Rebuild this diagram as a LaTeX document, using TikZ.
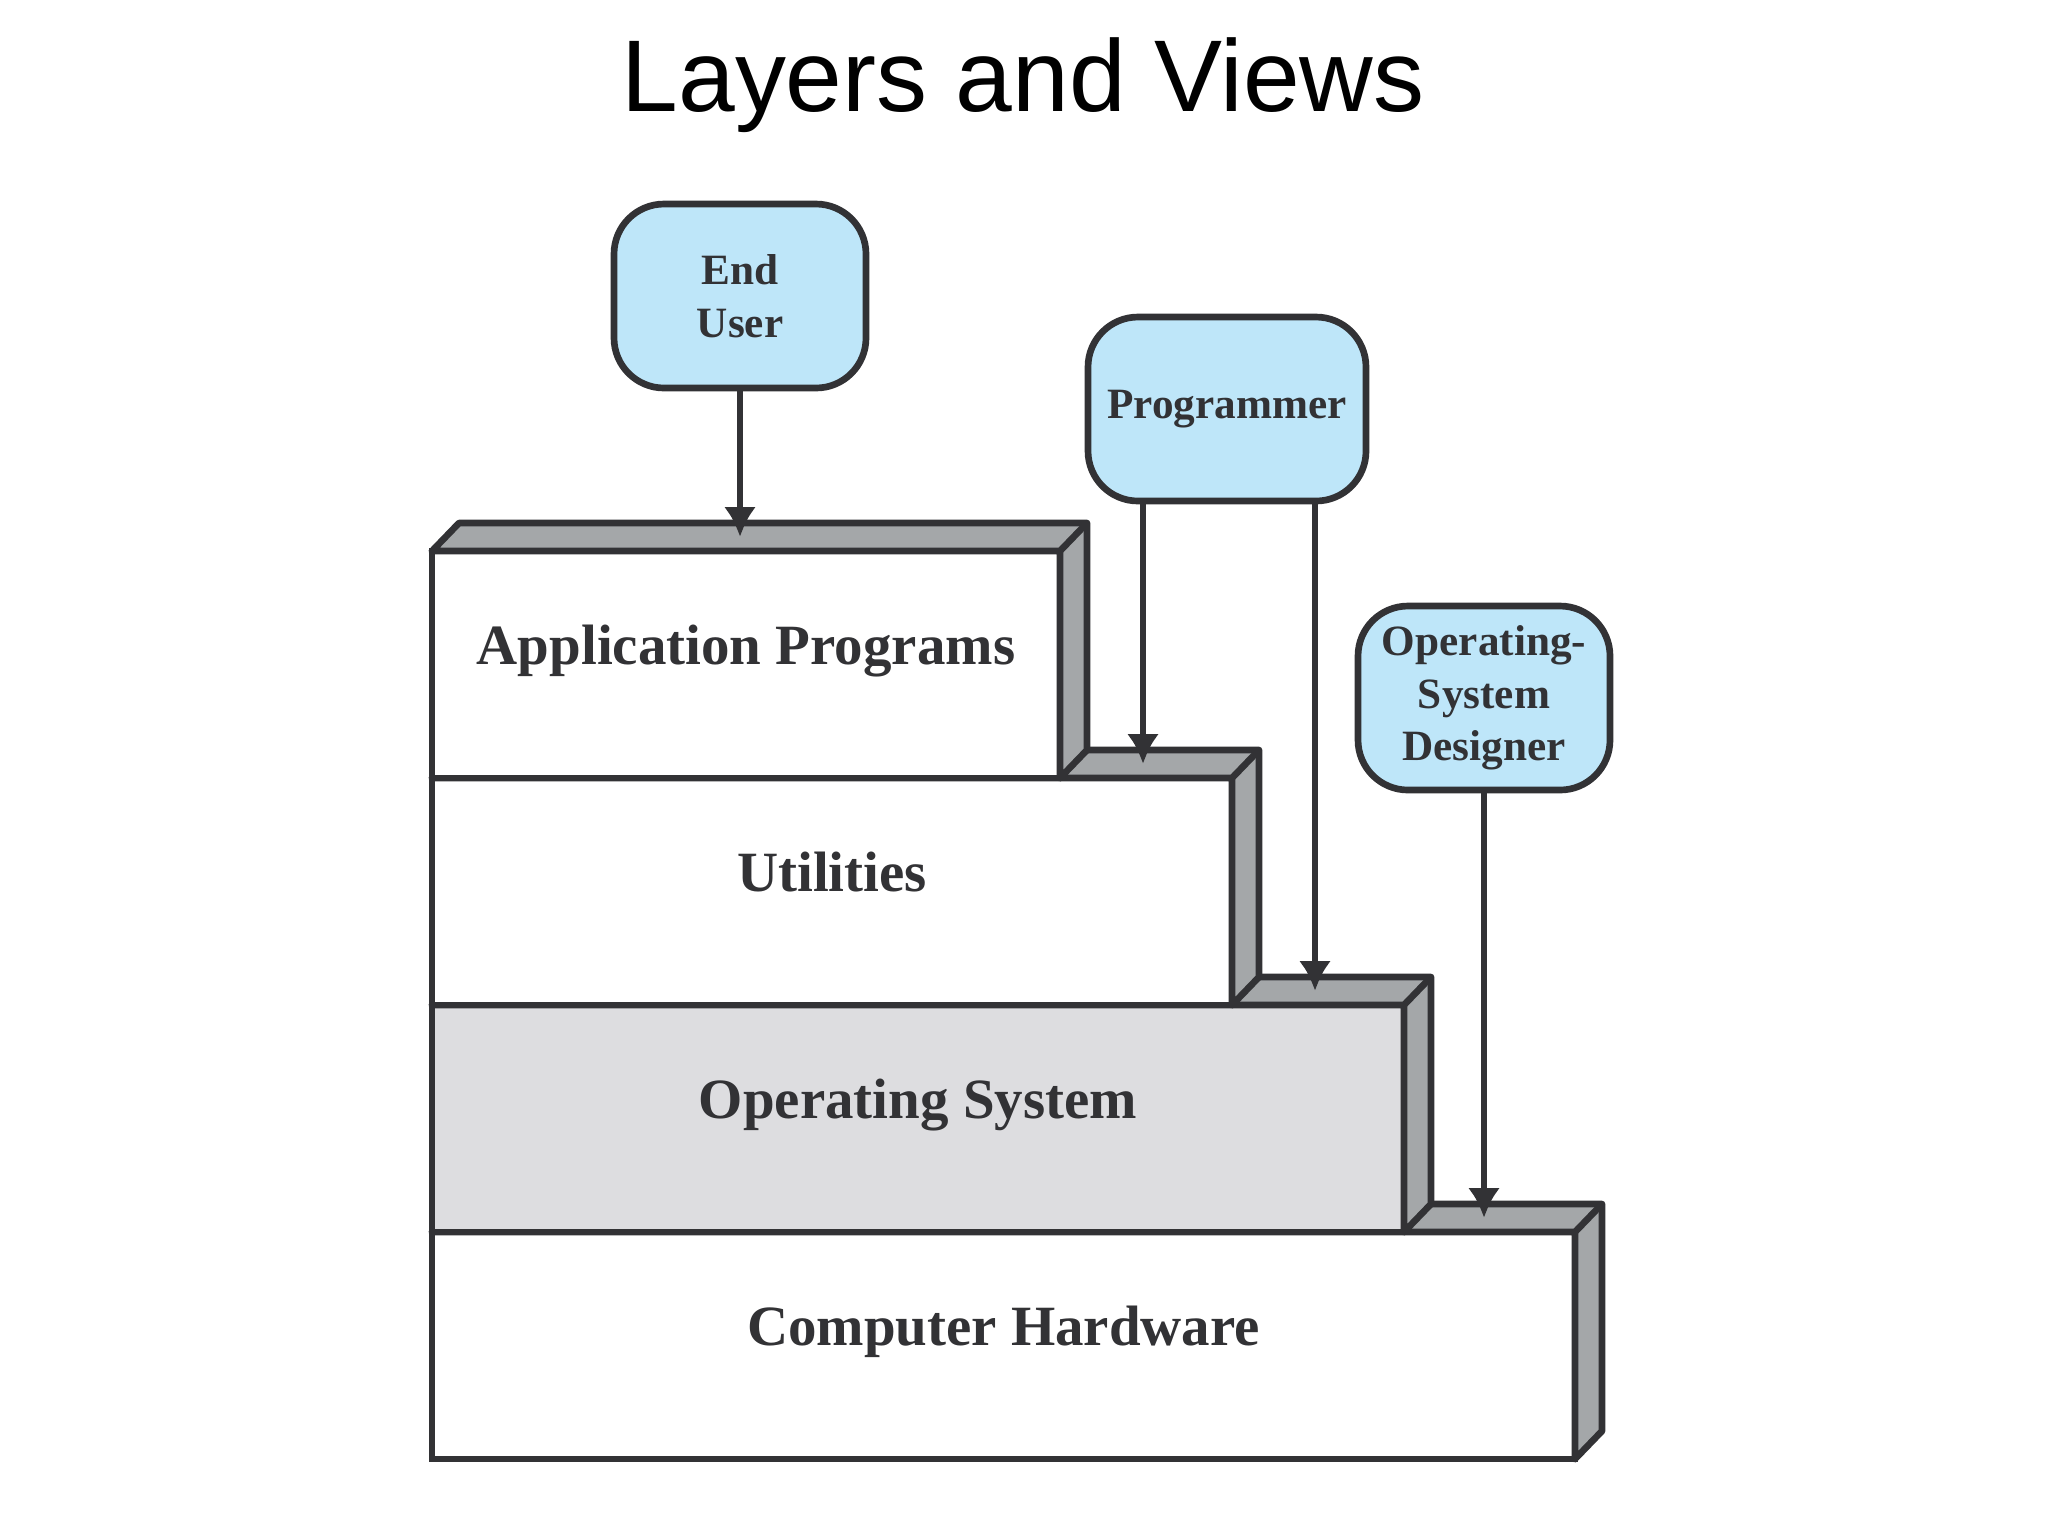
\documentclass[tikz,border=0pt]{standalone}
\usepackage{fontspec}
\newfontfamily\titlefont{Liberation Sans}
\newfontfamily\boxfont{Liberation Serif}
\usetikzlibrary{positioning,arrows.meta}

\definecolor{inkgray}{RGB}{50,50,53}
\definecolor{bevelgray}{RGB}{164,167,169}
\definecolor{osgray}{RGB}{221,221,224}
\definecolor{userblue}{RGB}{190,230,249}

\tikzset{
  layer/.style={rectangle,draw=inkgray,line width=1.9pt,fill=white,outer sep=0pt,anchor=south west,
    minimum height=2.27cm,text=inkgray,font=\boxfont\bfseries\fontsize{16.2}{19}\selectfont,
    text height=4mm,text depth=4mm},
  bevel/.style={draw=inkgray,line width=1.9pt,fill=bevelgray,line join=round},
  viewer/.style={rectangle,rounded corners=0.5cm,draw=inkgray,line width=1.9pt,fill=userblue,
    align=center,minimum height=1.84cm,minimum width=2.52cm,text=inkgray,
    font=\boxfont\bfseries\fontsize{12.3}{15}\selectfont},
  view/.style={-{Latex[length=0.3cm,width=0.32cm]},draw=inkgray,line width=1.9pt}
}

% top and side faces of a layer, plus the spot an arrow lands on
\newcommand{\bevelof}[1]{%
  \filldraw[bevel] (#1.north west) -- ++(0.27cm,0.28cm) -| ([shift={(0.27cm,0.28cm)}]#1.south east)
    -- (#1.south east) -- (#1.north east) -- cycle;
  \draw[bevel] (#1.north east) -- ++(0.27cm,0.28cm);
  \coordinate (#1top) at ([yshift=0.14cm]#1.north);
}

\begin{document}
\begin{tikzpicture}[x=0.1mm,y=-0.1mm]
	\useasboundingbox (0,0) rectangle (2048,1536);
	\node[font=\titlefont\fontsize{29}{35}\selectfont,anchor=base] (title) at (1023,111) {Layers and Views};

	% layers, bottom one first
	\node[layer,minimum width=11.43cm] (hardware) at (432,1459) {Computer Hardware};
		\bevelof{hardware}
	\node[layer,minimum width=9.72cm,fill=osgray] (os) at (hardware.north west) {Operating System};
		\bevelof{os}
	\node[layer,minimum width=8cm] (utilities) at (os.north west) {Utilities};
		\bevelof{utilities}
	\node[layer,minimum width=6.28cm] (apps) at (utilities.north west) {Application Programs};
		\bevelof{apps}

	% who looks at which layer
	\node[viewer] (enduser) at (740,296) {End\\User};
		\draw[view] (enduser) -- (enduser |- appstop);
	\node[viewer,minimum width=2.78cm] (programmer) at (1227,409) {Programmer};
		\draw[view] ([xshift=-0.84cm]programmer.south) coordinate (p1) -- (p1 |- utilitiestop);
		\draw[view] ([xshift=0.88cm]programmer.south) coordinate (p2) -- (p2 |- ostop);
	\node[viewer] (designer) at (1484,698) {Operating-\\System\\Designer};
		\draw[view] (designer) -- (designer |- hardwaretop);
\end{tikzpicture}
\end{document}
